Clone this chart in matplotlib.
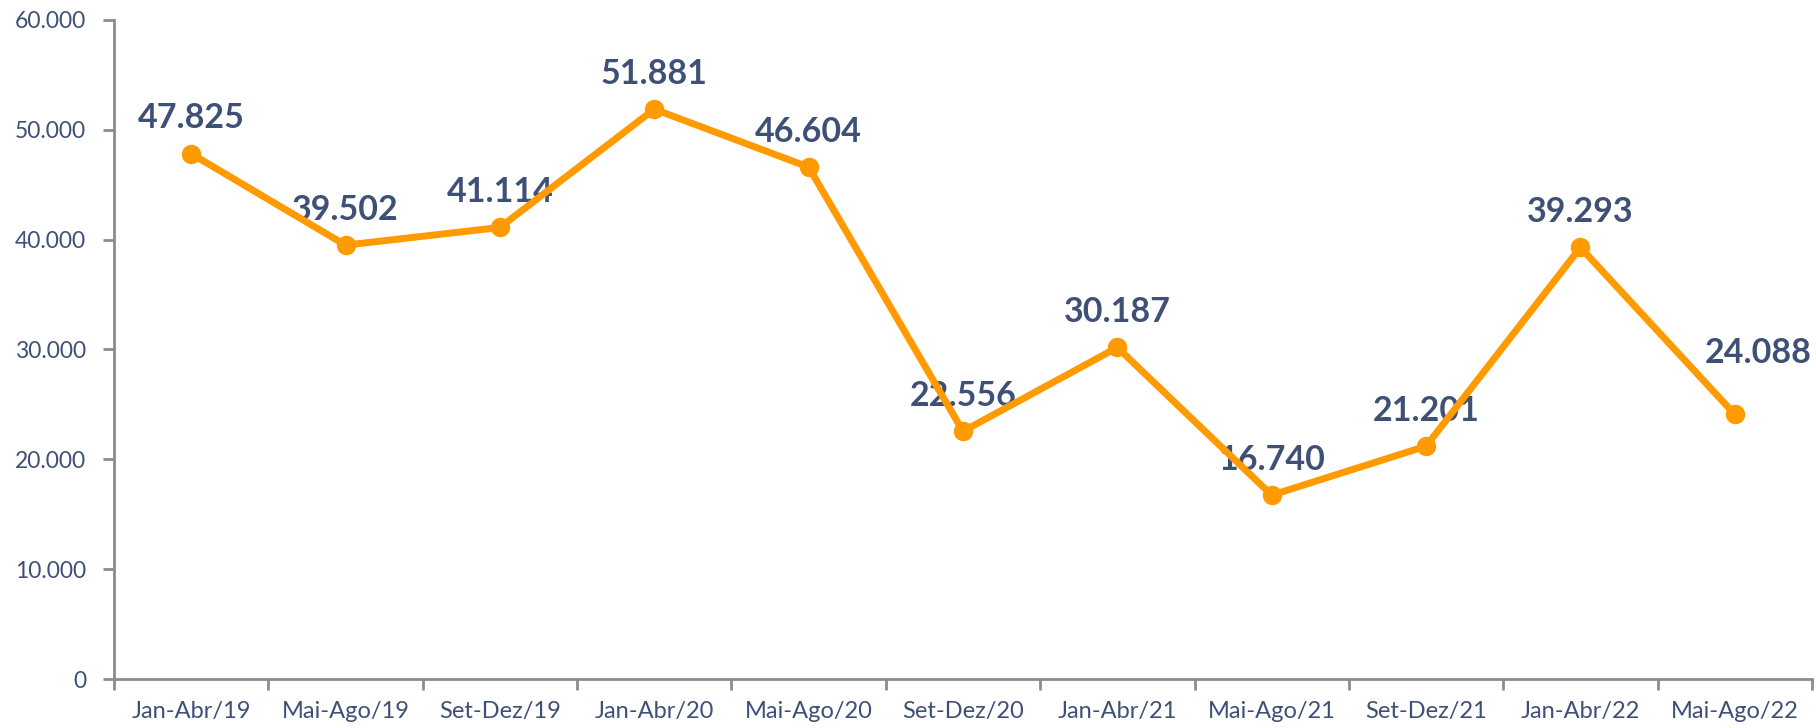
import numpy as np
import matplotlib
matplotlib.use('Agg')
import matplotlib.pyplot as plt
from matplotlib.ticker import FuncFormatter, FixedLocator

periods = ['Jan-Abr/19', 'Mai-Ago/19', 'Set-Dez/19', 'Jan-Abr/20', 'Mai-Ago/20',
           'Set-Dez/20', 'Jan-Abr/21', 'Mai-Ago/21', 'Set-Dez/21', 'Jan-Abr/22',
           'Mai-Ago/22']
values = [47825, 39502, 41114, 51881, 46604, 22556, 30187, 16740, 21201, 39293, 24088]

orange = '#FF9A00'
navy = '#3F5077'
grey = '#8C8C8C'

plt.rcParams['font.family'] = ['Lato', 'DejaVu Sans']

fig = plt.figure(figsize=(18.16, 7.28), dpi=100)
ax = fig.add_axes([114/1816, 49/728, (1812-114)/1816, (679-20)/728])

x = np.arange(len(values))
ax.plot(x, values, color=orange, lw=5, marker='o', ms=13, zorder=3, solid_capstyle='round')

for xi, v in zip(x, values):
    lab = f'{v:,}'.replace(',', '.')
    # last label sits nudged up/right in the original
    off = (17, 33) if xi == len(values) - 1 else (0, 14)
    ax.annotate(lab, (xi, v), xytext=off, textcoords='offset points',
                ha='center', va='bottom', fontsize=24.5, fontweight='bold',
                color=navy, zorder=2, annotation_clip=False)

ax.set_xlim(-0.5, len(values) - 0.5)
ax.set_ylim(0, 60000)
ax.set_yticks(np.arange(0, 60001, 10000))
ax.yaxis.set_major_formatter(FuncFormatter(lambda v, p: f'{int(v):,}'.replace(',', '.')))

ax.set_xticks(x)
ax.set_xticklabels(periods)
ax.xaxis.set_minor_locator(FixedLocator(np.arange(-0.5, len(values), 1.0)))
ax.tick_params(axis='x', which='major', length=0, pad=16, labelsize=17, labelcolor=navy)
ax.tick_params(axis='x', which='minor', length=8, width=2, color=grey)
ax.tick_params(axis='y', length=8, width=2, color=grey, pad=12, labelsize=16.5, labelcolor=navy)

for s in ['top', 'right']:
    ax.spines[s].set_visible(False)
for s in ['left', 'bottom']:
    ax.spines[s].set_color(grey)
    ax.spines[s].set_linewidth(2)

fig.savefig('out.png', dpi=100)
